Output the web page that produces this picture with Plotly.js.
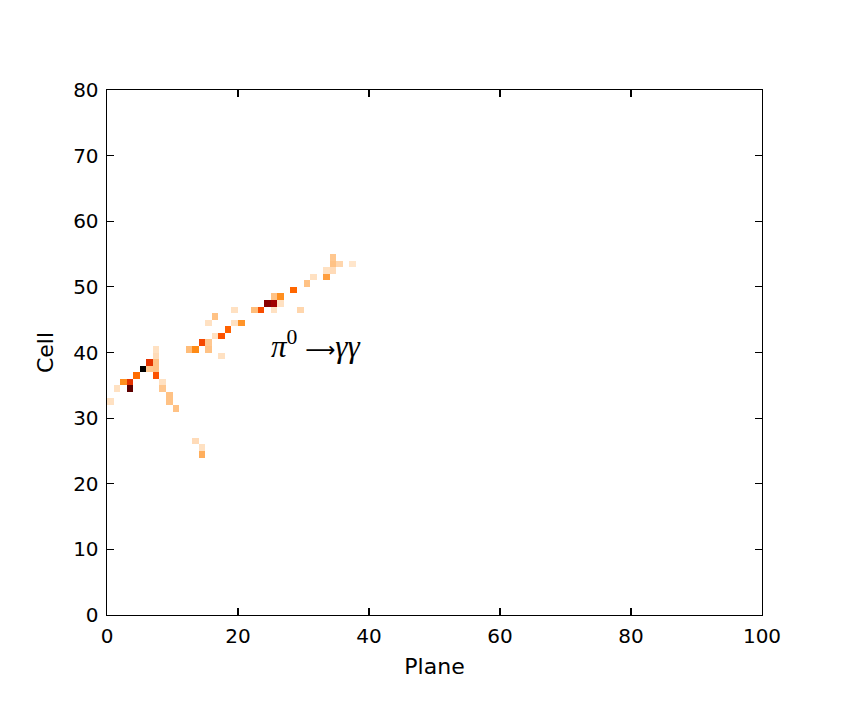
<!DOCTYPE html>
<html>
<head>
<meta charset="utf-8">
<script src="https://cdn.plot.ly/plotly-3.0.1.min.js"></script>
<style>html,body{margin:0;padding:0;background:#fff;}</style>
</head>
<body>
<div id="chart" style="width:847px;height:706px;"></div>
<script>
// Hit cells: plane index, cell index, deposited (normalised) charge
const planes = [0, 1, 2, 3, 3, 4, 5, 6, 6, 7, 7, 7, 7, 7, 8, 8, 9, 9, 10,
                12, 13, 14, 15, 15, 16, 17, 18, 19, 20, 15, 16, 19, 17,
                22, 23, 24, 25, 25, 26, 25, 26, 28, 29, 30, 31, 33, 33, 34, 34, 35, 34, 37,
                13, 14, 14];
const cells  = [32, 34, 35, 35, 34, 36, 37, 38, 37, 40, 39, 37, 36, 38, 35, 34, 33, 32, 31,
                40, 40, 41, 40, 41, 42, 42, 43, 44, 44, 44, 45, 46, 39,
                46, 46, 47, 47, 48, 48, 46, 47, 49, 46, 50, 51, 51, 52, 52, 53, 53, 54, 53,
                26, 25, 24];
const charge = [0.06, 0.06, 0.22, 0.40, 0.76, 0.29, 1.00, 0.40, 0.11, 0.06, 0.07, 0.12, 0.34, 0.12, 0.06, 0.11, 0.12, 0.12, 0.12,
                0.13, 0.23, 0.36, 0.12, 0.11, 0.06, 0.34, 0.31, 0.06, 0.21, 0.06, 0.12, 0.06, 0.06,
                0.13, 0.35, 0.64, 0.58, 0.12, 0.22, 0.06, 0.06, 0.30, 0.08, 0.12, 0.06, 0.19, 0.06, 0.07, 0.12, 0.08, 0.11, 0.05,
                0.07, 0.06, 0.16];
const nPlanes = 100, nCells = 80;
const xTicks = [0, 20, 40, 60, 80, 100];
const yTicks = [0, 10, 20, 30, 40, 50, 60, 70, 80];
const annText = '<i>π</i><sup>0</sup> <span style="font-family:DejaVu Sans;font-size:21px">⟶</span><i>γγ</i>';

const z = [];
for (let c = 0; c < nCells; c++) { z.push(new Array(nPlanes).fill(null)); }
for (let i = 0; i < planes.length; i++) { z[cells[i]][planes[i]] = charge[i]; }

const gistHeatR = [
  [0, 'rgb(255,255,255)'],
  [0.25, 'rgb(255,128,0)'],
  [1/3, 'rgb(255,85,0)'],
  [0.5, 'rgb(191,0,0)'],
  [1, 'rgb(0,0,0)']
];

const trace = {
  type: 'heatmap',
  z: z,
  x0: 0.5, dx: 1,
  y0: 0.5, dy: 1,
  zmin: 0, zmax: 1,
  colorscale: gistHeatR,
  showscale: false,
  hoverongaps: false,
  xgap: 0, ygap: 0
};

const axisCommon = {
  showgrid: false, zeroline: false,
  showline: true, linecolor: '#000', linewidth: 1.4,
  mirror: 'ticks', ticks: 'inside', ticklen: 7, tickwidth: 1.1, tickcolor: '#000',
  tickfont: {family: 'DejaVu Sans', size: 20, color: '#000'}
};

const layout = {
  width: 847, height: 706,
  margin: {l: 107, r: 85, t: 90, b: 91},
  paper_bgcolor: '#fff', plot_bgcolor: '#fff',
  showlegend: false,
  xaxis: Object.assign({}, axisCommon, {
    range: [0, 100], tickvals: xTicks, ticktext: xTicks.map(String),
    ticklabelstandoff: 3,
    title: {text: 'Plane', font: {family: 'DejaVu Sans', size: 22, color: '#000'}, standoff: 11}
  }),
  yaxis: Object.assign({}, axisCommon, {
    range: [0, 80], tickvals: yTicks, ticktext: yTicks.map(String),
    ticklabelstandoff: 3,
    title: {text: 'Cell', font: {family: 'DejaVu Sans', size: 22, color: '#000'}, standoff: 13}
  }),
  annotations: [{
    x: 24.8, y: 41.2, xref: 'x', yref: 'y',
    xanchor: 'left', yanchor: 'middle',
    text: annText, showarrow: false,
    font: {family: 'Liberation Serif', size: 31, color: '#000'}
  }]
};

Plotly.newPlot('chart', [trace], layout, {displayModeBar: false, staticPlot: true});
</script>
</body>
</html>
